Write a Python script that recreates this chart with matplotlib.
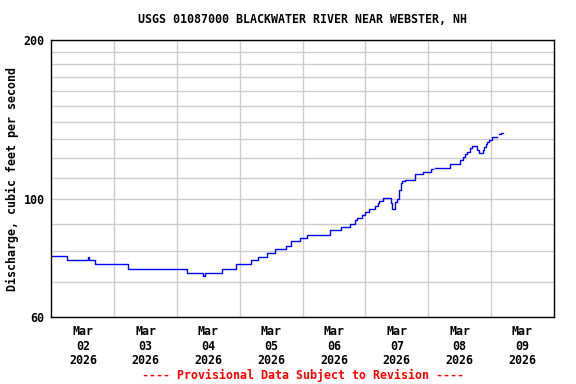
import numpy as np
import matplotlib
matplotlib.use("Agg")
import matplotlib.pyplot as plt
import pandas as pd

# hours after 2026-03-02 00:00 where each discharge value starts (step data)
hours = [0, 5.75, 14.0, 14.25, 16.75, 29.25, 51.75, 58.0, 58.75, 65.0,
         70.5, 76.25, 79.0, 82.25, 85.5, 89.75, 91.5, 95.0, 97.75, 106.5,
         110.75, 114.0, 116.0, 116.75, 118.75, 119.75, 121.5, 123.75, 124.75, 125.25,
         126.75, 129.75, 130.25, 131.5, 132.0, 132.75, 133.5, 134.0, 135.25, 139.0,
         142.0, 145.25, 145.75, 146.5, 152.25, 156.25, 157.25, 158.0, 159.0, 160.0,
         160.75, 162.75, 163.5, 165.0, 165.5, 166.0, 166.5, 167.25, 168.5, 170.25,
         171.25, 172.0, 172.5]
cfs = [78.1, 76.9, 77.9, 76.9, 75.5, 73.8, 72.5, 71.7, 72.5, 73.8,
       75.4, 76.8, 78.0, 79.3, 80.5, 81.8, 83.5, 84.7, 85.8, 87.4,
       88.8, 90.0, 91.3, 92.1, 93.5, 94.6, 95.8, 97.1, 98.3, 99.5,
       100.6, 98.4, 95.9, 99.0, 100.1, 104.2, 107.3, 108.4, 109.0, 111.6,
       112.5, 114.2, np.nan, 114.5, 116.5, 118.7, 120.4, 121.7, 123.1, 124.9,
       126.3, 124.2, 122.4, 123.8, 125.6, 127.3, 128.5, 129.7, 131.2, np.nan,
       132.7, 133.5, 133.5]

y_labels = [60, 100, 200]
y_grid = [70, 80, 90, 110, 120, 130, 140, 150, 160, 170, 180, 190]
title = "USGS 01087000 BLACKWATER RIVER NEAR WEBSTER, NH"
ylabel = "Discharge, cubic feet per second"
footer = "---- Provisional Data Subject to Revision ----"

start = pd.Timestamp("2026-03-02")
days = pd.date_range("2026-03-02", "2026-03-10", freq="D")
noons = days[:-1] + pd.Timedelta(hours=12)
times = start + pd.to_timedelta(hours, unit="h")

font = {"family": "DejaVu Sans Mono", "weight": "bold", "size": 8.4}

fig = plt.figure(figsize=(5.76, 3.84), dpi=100)
ax = fig.add_axes([0.0894, 0.1745, 0.872, 0.7213])

ax.plot(times, cfs, color="#0000ff", lw=1.0, drawstyle="steps-post")

ax.set_yscale("log")
ax.set_ylim(60, 200)
ax.set_yticks(y_labels)
ax.set_yticklabels([str(v) for v in y_labels], fontdict=font)
ax.set_yticks(y_grid, minor=True)
ax.yaxis.set_minor_formatter(plt.NullFormatter())

ax.set_xlim(days[0], days[-1])
ax.set_xticks(days[1:-1])
ax.set_xticklabels([])
ax.set_xticks(noons, minor=True)
ax.set_xticklabels([d.strftime("%b\n%d\n%Y") for d in noons], minor=True, fontdict=font,
                   linespacing=1.15)

# vertical grid only at midnight, horizontal grid at every level
ax.xaxis.grid(True, which="major", color="#cccccc", lw=1.0)
ax.yaxis.grid(True, which="both", color="#cccccc", lw=1.0)
ax.tick_params(which="both", length=0)
ax.tick_params(axis="x", which="minor", pad=6)
ax.tick_params(axis="y", pad=5)
for s in ax.spines.values():
    s.set_linewidth(1.0)
    s.set_color("black")

ax.set_ylabel(ylabel, fontdict=font, labelpad=3)
ax.text(0.5, 1.0 + 21 / 277, title, transform=ax.transAxes, ha="center", va="center",
        fontdict=font)
ax.text(0.5, -58 / 277, footer, transform=ax.transAxes, ha="center", va="center",
        color="red", fontdict=font)

fig.savefig("out.png", dpi=100)
